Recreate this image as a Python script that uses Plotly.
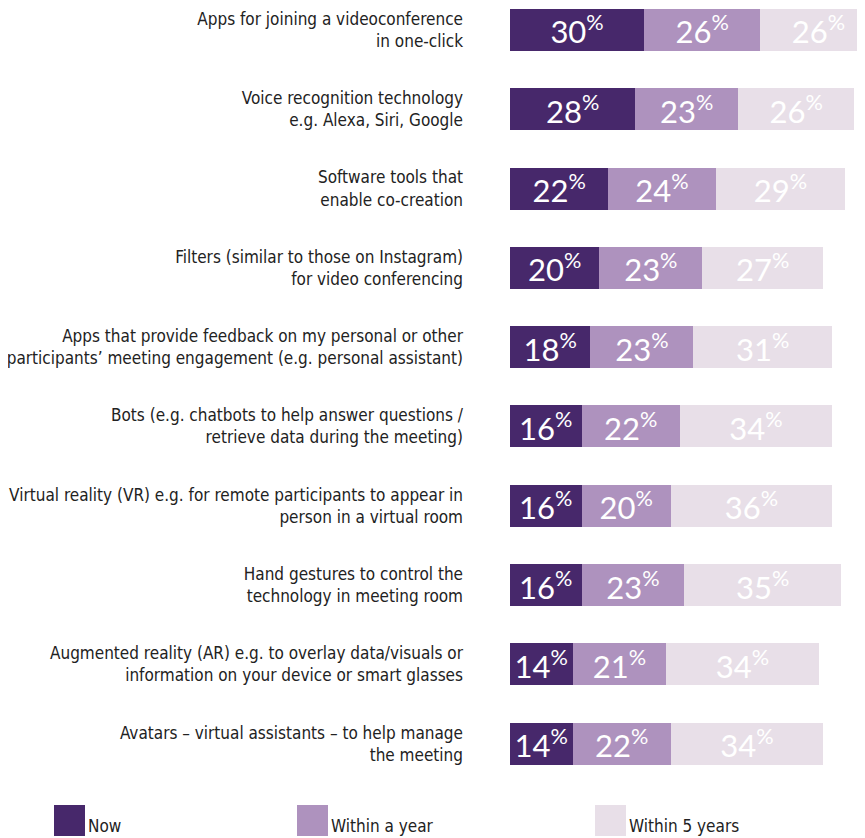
import plotly.graph_objects as go

# Категорії (порядок зверху вниз)
categories = [
    "Apps for joining a videoconference<br>in one-click",
    "Voice recognition technology<br>e.g. Alexa, Siri, Google",
    "Software tools that<br>enable co-creation",
    "Filters (similar to those on Instagram)<br>for video conferencing",
    "Apps that provide feedback on my personal or other<br>participants’ meeting engagement (e.g. personal assistant)",
    "Bots (e.g. chatbots to help answer questions /<br>retrieve data during the meeting)",
    "Virtual reality (VR) e.g. for remote participants to appear in<br>person in a virtual room",
    "Hand gestures to control the<br>technology in meeting room",
    "Augmented reality (AR) e.g. to overlay data/visuals or<br>information on your device or smart glasses",
    "Avatars – virtual assistants – to help manage<br>the meeting",
]

now = [30, 28, 22, 20, 18, 16, 16, 16, 14, 14]
within_year = [26, 23, 24, 23, 23, 22, 20, 23, 21, 22]
within_5_years = [26, 26, 29, 27, 31, 34, 36, 35, 34, 34]

series_names = ["Now", "Within a year", "Within 5 years"]
series_values = [now, within_year, within_5_years]
colors = ["#47286b", "#ae92be", "#e8dfe8"]

# сторінка має відступ 8px, тому фігура трохи менша за вікно
OFF = 8
W, H = 865 - OFF, 838 - OFF
PLOT_LEFT = 510 - OFF
PLOT_BOTTOM = 780 - OFF
LABEL_FONT = "DejaVu Sans Condensed, Liberation Sans Narrow, Roboto, sans-serif"

fig = go.Figure()

for name, vals, col in zip(series_names, series_values, colors):
    fig.add_trace(go.Bar(
        y=categories, x=vals, name=name, orientation="h",
        marker=dict(color=col, line=dict(width=0)),
        texttemplate="%{x}<sup>%</sup>",
        textposition="inside", insidetextanchor="middle",
        textangle=0, constraintext="none",
        textfont=dict(family="Lato, Open Sans, sans-serif", size=31, color="white"),
        hoverinfo="skip", showlegend=False,
    ))

# Власна легенда: квадрати + підписи
legend_x = [54, 297, 595]
shapes = []
annotations = []
for lx, name, col in zip(legend_x, series_names, colors):
    x0 = lx - OFF
    shapes.append(dict(type="rect", xref="paper", yref="paper",
                       x0=x0 / W, x1=(x0 + 31) / W,
                       y0=1 - (836 - OFF) / H, y1=1 - (805 - OFF) / H,
                       fillcolor=col, line=dict(width=0)))
    annotations.append(dict(text=name, xref="paper", yref="paper",
                            x=(x0 + 32) / W, y=0,
                            xanchor="left", yanchor="bottom", showarrow=False,
                            font=dict(family=LABEL_FONT, size=17, color="#222222")))

fig.update_layout(
    width=W, height=H,
    margin=dict(l=0, r=0, t=0, b=0),
    barmode="stack", bargap=0.47,
    plot_bgcolor="white", paper_bgcolor="white",
    shapes=shapes, annotations=annotations,
    xaxis=dict(domain=[PLOT_LEFT / W, 1], range=[0, 79.4],
               visible=False, fixedrange=True, automargin=False),
    yaxis=dict(domain=[1 - PLOT_BOTTOM / H, 1],
               range=[9.458, -0.277], showgrid=False, zeroline=False,
               showline=False, ticks="", ticklabelstandoff=46, automargin=False,
               tickfont=dict(family=LABEL_FONT, size=17, color="#222222")),
)

fig.write_html("out.html")
